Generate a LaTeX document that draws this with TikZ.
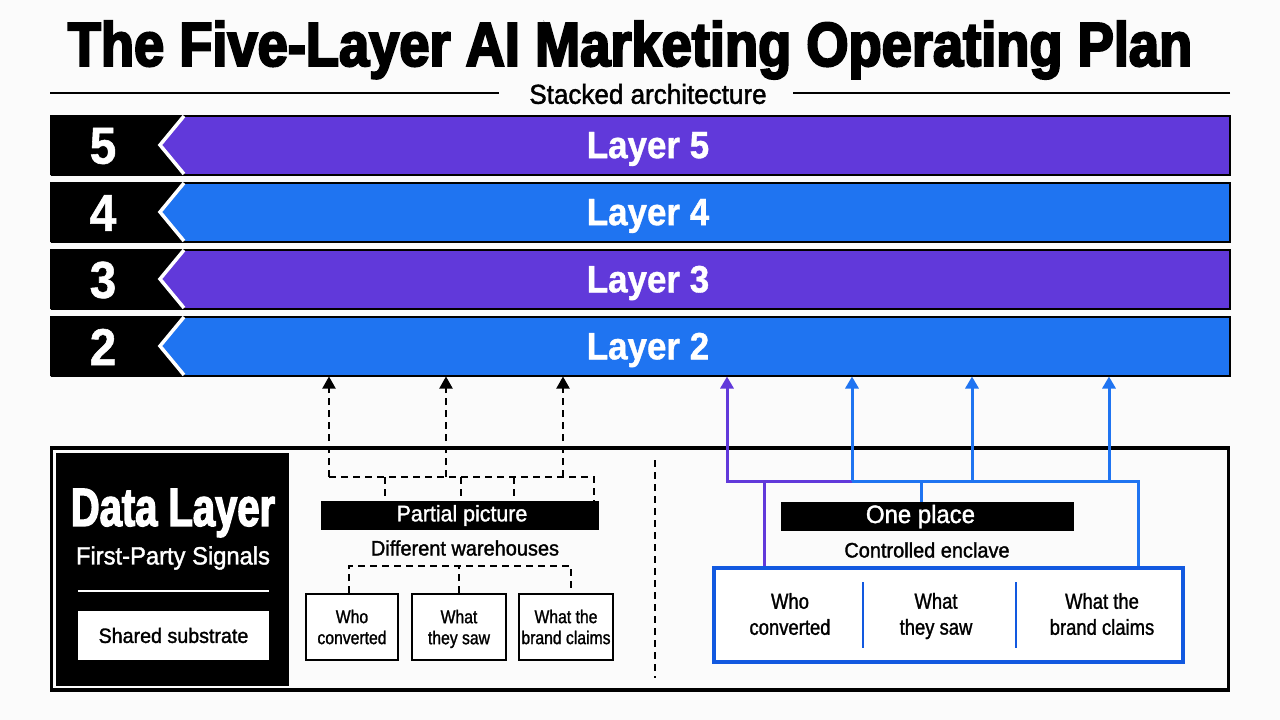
\documentclass[tikz,border=0pt]{standalone}
\usepackage{fontspec}
\usepackage{tikz}
\usepackage{color}
\usetikzlibrary{arrows.meta}
\setmainfont{Liberation Sans}
\newfontfamily\titlefont[BoldFeatures={FakeStretch=0.875,FakeBold=3.5}]{Liberation Sans}
\newfontfamily\panelfont[BoldFeatures={FakeStretch=0.74,FakeBold=2.5}]{Liberation Sans}
\newfontfamily\barfont[BoldFeatures={FakeStretch=0.92,FakeBold=1}]{Liberation Sans}
\newfontfamily\labelfont[FakeStretch=0.95,FakeBold=1.5]{Liberation Sans}
\newfontfamily\cellfont[FakeStretch=0.85,FakeBold=1.3]{Liberation Sans}
\definecolor{pagewhite}{HTML}{FBFBFB}
\definecolor{layerpurple}{HTML}{6139DA}
\definecolor{layerblue}{HTML}{1F74F1}
\definecolor{enclaveblue}{HTML}{1259E0}
\newcommand{\sizedtext}[2]{\fontsize{#1}{#2}\selectfont}
\tikzset{
    layerbar/.style={draw=black, line width=2pt, minimum width=1178pt, minimum height=59pt, inner sep=0pt, anchor=west, text=white},
    blackstrip/.style={fill=black, text=white, inner sep=0pt},
    smallbox/.style={draw=black, line width=2pt, fill=white, minimum height=66pt, inner sep=0pt, align=center, font=\cellfont\sizedtext{18.5}{21}},
    cellbox/.style={align=center, inner sep=0pt, font=\cellfont\sizedtext{21.7}{26}},
    caption/.style={inner sep=0pt, font=\labelfont\sizedtext{21}{21}},
    dashlink/.style={black, line width=2pt, dash pattern=on 7pt off 5pt},
    dasharrow/.style={dashlink, -{Triangle[width=13pt,length=12pt]}},
    solidarrow/.style={line width=3pt, -{Triangle[width=13pt,length=12pt]}}
}
\begin{document}
\begin{tikzpicture}[x=1pt, y=-1pt]
    \path[use as bounding box, fill=pagewhite] (0,0) rectangle (1280,720);

    % Title and rule
    \node (title) [inner sep=0pt, font=\titlefont\bfseries\sizedtext{62}{62}] at (630,50) {The Five-Layer AI Marketing Operating Plan};
    \node (subtitle) [inner sep=0pt, font=\labelfont\sizedtext{27.4}{27.4}] at (648,94) {Stacked architecture};
    \coordinate (ruleleft) at (50,93);
    \coordinate (ruleright) at (1230,93);
    \draw [black, line width=2pt] (ruleleft) -- (ruleleft -| 499,0);
    \draw [black, line width=2pt] (ruleright) -- (ruleright -| 793,0);

    % Layer bars
    \foreach \num/\ytop/\barcol in {5/115/layerpurple, 4/182/layerblue, 3/249/layerpurple, 2/316/layerblue} {
        \pgfmathtruncatemacro{\ymid}{\ytop+30}
        \pgfmathtruncatemacro{\ybot}{\ytop+60}
        \node (layer\num) [layerbar, fill=\barcol] at (50.5,\ymid) {};
        \node (label\num) [inner sep=0pt, text=white, font=\barfont\bfseries\sizedtext{38}{38}] at (648,\ymid+4) {Layer \num};
        \fill [black] (50,\ytop) -- (186,\ytop) -- (161,\ymid) -- (186,\ybot) -- (50,\ybot) -- cycle;
        \draw [white, line width=3.5pt] (184,\ytop+1) -- (160,\ymid) -- (184,\ybot-1);
        \node (num\num) [inner sep=0pt, text=white, font=\barfont\bfseries\sizedtext{52}{52}] at (103,\ymid+1) {\num};
    }

    % Data layer frame
    \node (frame) [draw=black, line width=3.5pt, fill=pagewhite, minimum width=1177pt, minimum height=242pt, inner sep=0pt] at (640,569) {};
    \node (panel) [fill=black, minimum width=233pt, minimum height=233pt, inner sep=0pt] at (172.5,569.5) {};
    \node (datatitle) [inner sep=0pt, text=white, font=\panelfont\bfseries\sizedtext{54}{54}] at (173,513) {Data Layer};
    \node (datasub) [inner sep=0pt, text=white, font=\labelfont\sizedtext{25}{25}] at (173,558) {First-Party Signals};
    \node (shared) [fill=white, minimum width=191pt, minimum height=49pt, inner sep=0pt, font=\labelfont\sizedtext{20.7}{20.7}] at (173.5,635.5) {Shared substrate};
    \draw [white, line width=2pt] (shared.west |- 0,591) -- (shared.east |- 0,591);

    % Divider
    \coordinate (divtop) at (655,460);
    \coordinate (divbot) at (655,678);
    \draw [black, line width=1.5pt, dash pattern=on 7pt off 5pt] (divtop) -- (divbot);

    % Left side: partial picture
    \node (partial) [blackstrip, minimum width=278pt, minimum height=29pt, font=\labelfont\sizedtext{22.5}{22.5}] at (460,515.5) {\hspace*{4pt}Partial picture};
    \node (warehouses) [caption] at (465,548) {Different warehouses};
    \node (whoA) [smallbox, minimum width=92pt] at (352,627) {Who\\converted};
    \node (sawA) [smallbox, minimum width=94pt, text depth=0pt] at (459,627) {What\\they saw};
    \node (claimA) [smallbox, minimum width=94pt] at (566,627) {What the\\brand claims};

    % Dashed links below the black strip
    \coordinate (busA) at (349,566);
    \coordinate (busB) at (571,566);
    \draw [dashlink] (whoA.north -| busA) -- (busA) -- (busB) -- (claimA.north -| busB);
    \draw [dashlink] (sawA.north) -- (sawA.north |- busA);

    % Dashed links above the black strip
    \coordinate (overA) at (329,477);
    \coordinate (overB) at (594,477);
    \draw [dashlink] (overA) -- (overB) -- (overB |- partial.north);
    \foreach \x in {385,461,514}
    \draw [dashlink] (\x,477) -- (\x,501);
    \foreach \x in {329,446,563}
    \draw [dasharrow] (\x,477) -- (\x,0 |- layer2.south);

    % Right side: one place
    \node (oneplace) [blackstrip, minimum width=293pt, minimum height=29pt, font=\labelfont\sizedtext{25.2}{25.2}] at (927.5,516.5) {\hspace*{-14pt}One place};
    \node (enclave) [caption] at (927,550) {Controlled enclave};
    \node (store) [draw=enclaveblue, line width=4pt, fill=white, minimum width=469pt, minimum height=94pt, inner sep=0pt] at (948.5,615) {};
    \node (whoB) [cellbox] at (790,614) {Who\\converted};
    \node (sawB) [cellbox] at (936,616) {What\\they saw};
    \node (claimB) [cellbox] at (1102,614) {What the\\brand claims};
    \draw [enclaveblue, line width=2pt] (863,582) -- (863,648);
    \draw [enclaveblue, line width=2pt] (1016,582) -- (1016,648);

    % Solid links from the store up to layer 2
    \coordinate (busC) at (727,481);
    \coordinate (busD) at (852,481);
    \coordinate (busE) at (1138,481);
    \draw [layerblue, line width=3pt] (busD) -- (busE) -- (busE |- store.north);
    \draw [layerblue, line width=3pt] (921,481) -- (921,0 |- oneplace.north);
    \draw [layerpurple, line width=3pt] (764,0 |- store.north) -- (764,481);
    \draw [layerpurple, solidarrow] (busD) -- (busC) -- (busC |- layer2.south);
    \foreach \x in {852,972,1109}
    \draw [layerblue, solidarrow] (\x,481) -- (\x,0 |- layer2.south);
\end{tikzpicture}
\end{document}
